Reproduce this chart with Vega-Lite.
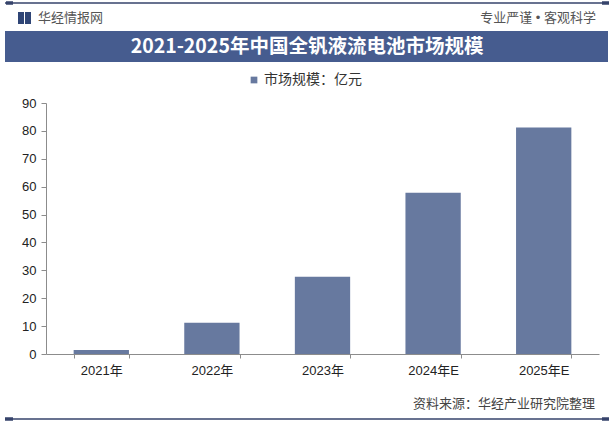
{
  "$schema": "https://vega.github.io/schema/vega-lite/v6.json",
  "autosize": "none",
  "width": 553,
  "height": 251,
  "padding": {"left": 46, "top": 103, "right": 14, "bottom": 70},
  "background": "#ffffff",
  "config": {
    "view": {"stroke": null},
    "font": "Liberation Sans, Noto Sans CJK SC"
  },
  "layer": [
    {
      "data": {"values": [{"k": "top"}]},
      "mark": {"type": "rule", "color": "#36436b", "strokeWidth": 1.5},
      "encoding": {"x": {"value": -41}, "x2": {"value": 562}, "y": {"value": -100}}
    },
    {
      "data": {"values": [{"k": "cap1"}]},
      "mark": {"type": "rule", "color": "#36436b", "strokeWidth": 3.5},
      "encoding": {"x": {"value": -40}, "x2": {"value": -33}, "y": {"value": -100}}
    },
    {
      "data": {"values": [{"k": "cap2"}]},
      "mark": {"type": "rule", "color": "#36436b", "strokeWidth": 3.5},
      "encoding": {"x": {"value": 556}, "x2": {"value": 563}, "y": {"value": -100}}
    },
    {
      "data": {"values": [{"k": "logo1"}]},
      "mark": {"type": "rect", "color": "#2f4576"},
      "encoding": {"x": {"value": -28}, "x2": {"value": -22}, "y": {"value": -91}, "y2": {"value": -79}}
    },
    {
      "data": {"values": [{"k": "logo2"}]},
      "mark": {"type": "rect", "color": "#2f4576"},
      "encoding": {"x": {"value": -21}, "x2": {"value": -15}, "y": {"value": -91}, "y2": {"value": -79}}
    },
    {
      "data": {"values": [{"t": "华经情报网"}]},
      "mark": {"type": "text", "align": "left", "baseline": "middle", "fontSize": 13, "color": "#555555", "font": "Noto Sans CJK SC"},
      "encoding": {"text": {"field": "t"}, "x": {"value": -8}, "y": {"value": -85}}
    },
    {
      "data": {"values": [{"t": "专业严谨 • 客观科学"}]},
      "mark": {"type": "text", "align": "right", "baseline": "middle", "fontSize": 13, "color": "#555555", "font": "Liberation Sans, Noto Sans CJK SC"},
      "encoding": {"text": {"field": "t"}, "x": {"value": 550}, "y": {"value": -85}}
    },
    {
      "data": {"values": [{"k": "titlebar"}]},
      "mark": {"type": "rect", "color": "#465c8f"},
      "encoding": {"x": {"value": -41}, "x2": {"value": 562}, "y": {"value": -72}, "y2": {"value": -41}}
    },
    {
      "data": {"values": [{"t": "2021-2025年中国全钒液流电池市场规模"}]},
      "mark": {"type": "text", "align": "center", "baseline": "middle", "fontSize": 19.5, "fontWeight": "bold", "color": "#ffffff", "font": "Noto Sans CJK SC"},
      "encoding": {"text": {"field": "t"}, "x": {"value": 261}, "y": {"value": -56}}
    },
    {
      "data": {"values": [{"t": "资料来源：华经产业研究院整理"}]},
      "mark": {"type": "text", "align": "right", "baseline": "middle", "fontSize": 13, "color": "#444444", "font": "Noto Sans CJK SC"},
      "encoding": {"text": {"field": "t"}, "x": {"value": 549}, "y": {"value": 301}}
    },
    {
      "data": {"values": [{"k": "bottom"}]},
      "mark": {"type": "rule", "color": "#36436b", "strokeWidth": 1.5},
      "encoding": {"x": {"value": -41}, "x2": {"value": 562}, "y": {"value": 316}}
    },
    {
      "data": {"values": [{"k": "bcap1"}]},
      "mark": {"type": "rule", "color": "#36436b", "strokeWidth": 3.5},
      "encoding": {"x": {"value": -41}, "x2": {"value": -33}, "y": {"value": 316}}
    },
    {
      "data": {"values": [{"k": "bcap2"}]},
      "mark": {"type": "rule", "color": "#36436b", "strokeWidth": 3.5},
      "encoding": {"x": {"value": 556}, "x2": {"value": 563}, "y": {"value": 316}}
    },
    {
      "data": {
        "values": [
          {"year": "2021年", "value": 1.4, "series": "市场规模：亿元"},
          {"year": "2022年", "value": 11.2, "series": "市场规模：亿元"},
          {"year": "2023年", "value": 27.7, "series": "市场规模：亿元"},
          {"year": "2024年E", "value": 57.8, "series": "市场规模：亿元"},
          {"year": "2025年E", "value": 81.2, "series": "市场规模：亿元"}
        ]
      },
      "mark": {"type": "bar"},
      "encoding": {
        "x": {
          "field": "year", "type": "nominal", "sort": null,
          "scale": {"paddingInner": 0.5, "paddingOuter": 0.25},
          "axis": {
            "title": null, "labelAngle": 0, "labelFontSize": 13, "labelColor": "#222222",
            "domainColor": "#8c8c8c", "tickColor": "#8c8c8c", "tickBand": "extent",
            "tickSize": 4, "labelPadding": 6
          }
        },
        "y": {
          "field": "value", "type": "quantitative",
          "scale": {"domain": [0, 90], "nice": false},
          "axis": {
            "title": null, "values": [0, 10, 20, 30, 40, 50, 60, 70, 80, 90], "grid": false,
            "labelFontSize": 13, "labelColor": "#222222", "domainColor": "#8c8c8c",
            "tickColor": "#8c8c8c", "tickSize": 5, "labelPadding": 5
          }
        },
        "color": {
          "field": "series", "type": "nominal",
          "scale": {"range": ["#67799f"]},
          "legend": {
            "title": null, "orient": "none", "legendX": 201, "legendY": -30,
            "symbolType": "square", "symbolSize": 45, "labelFontSize": 14,
            "labelColor": "#333333", "labelFont": "Noto Sans CJK SC", "labelOffset": 3
          }
        }
      }
    }
  ]
}
